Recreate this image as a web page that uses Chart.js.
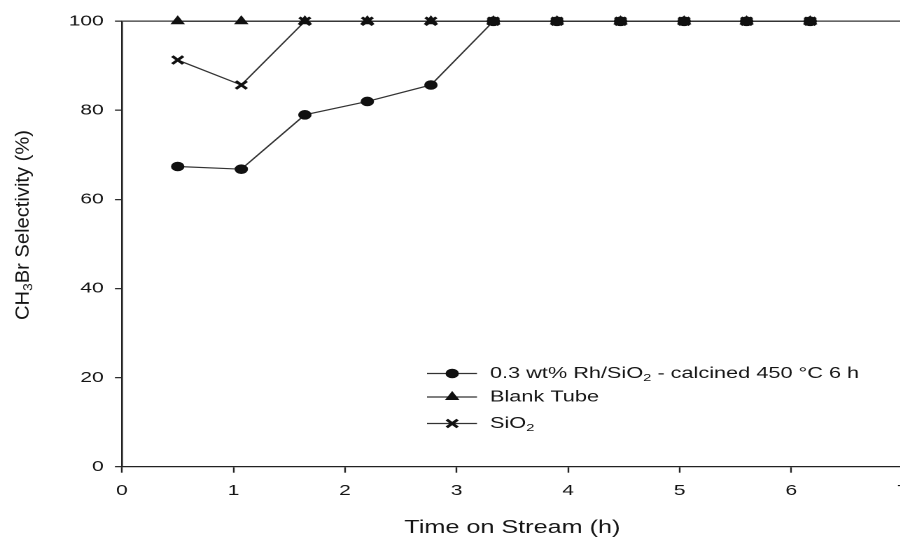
<!DOCTYPE html>
<html>
<head>
<meta charset="utf-8">
<script src="https://cdn.jsdelivr.net/npm/chart.js@4.4.1/dist/chart.umd.min.js"></script>
<style>
    html, body { margin: 0; padding: 0; background: #fff; overflow: hidden; width: 900px; height: 539px; }
    /* the plot is laid out narrow and widened, so the lettering comes out broad */
    #wrap { position: absolute; left: 0; top: 0; width: 658px; height: 539px; transform: scaleX(1.4); transform-origin: 0 0; }
</style>
</head>
<body>
<div id="wrap"><canvas id="myChart" width="658" height="539"></canvas></div>
<script>
const FONT = "'Liberation Sans', Arial, sans-serif"
const INK = '#151515'

// time on stream (h)
const times = [0.5, 1.07, 1.64, 2.2, 2.77, 3.33, 3.9, 4.47, 5.04, 5.6, 6.17]

// CH3Br selectivity (%)
const rhSio2 = [67.4, 66.8, 79.0, 82.0, 85.7, 100, 100, 100, 100, 100, 100]
const blankTube = [100, 100, 100, 100, 100, 100, 100, 100, 100, 100, 100]
const sio2 = [91.3, 85.7, 100, 100, 100, 100, 100, 100, 100, 100, 100]

// "_x" marks a subscript character
const seriesNames = ['0.3 wt% Rh/SiO_2 - calcined 450 °C 6 h', 'Blank Tube', 'SiO_2']
const xTicks = [0, 1, 2, 3, 4, 5, 6, 7]
const yTicks = [0, 20, 40, 60, 80, 100]

const toPoints = (ys) => ys.map((y, i) => ({ x: times[i], y: y }))

// draws text where "_x" becomes a lowered, smaller x; returns width used
function drawRich(ctx, text, x, y, size) {
    const parts = text.split(/_(.)/)
    let cx = x
    parts.forEach((p, i) => {
        const sub = i % 2 === 1
        ctx.font = (sub ? size * 0.68 : size) + 'px ' + FONT
        ctx.fillText(p, cx, sub ? y + size * 0.3 : y)
        cx += ctx.measureText(p).width
    })
    return cx - x
}

function richWidth(ctx, text, size) {
    const parts = text.split(/_(.)/)
    let w = 0
    parts.forEach((p, i) => {
        ctx.font = (i % 2 === 1 ? size * 0.68 : size) + 'px ' + FONT
        w += ctx.measureText(p).width
    })
    return w
}

// rotated y title, stretched along its length
const yTitle = {
    id: 'yTitle',
    afterDraw(chart) {
        const ctx = chart.ctx
        const text = 'CH_3Br Selectivity (%)'
        const size = 13.4
        ctx.save()
        ctx.translate(16.6, 225)
        ctx.rotate(-Math.PI / 2)
        const w = richWidth(ctx, text, size)
        ctx.scale(190 / w, 1)
        ctx.fillStyle = INK
        ctx.textBaseline = 'middle'
        ctx.textAlign = 'left'
        drawRich(ctx, text, -w / 2, 0, size)
        ctx.restore()
    }
}

// legend sitting inside the plot, lower right
const innerLegend = {
    id: 'innerLegend',
    afterDraw(chart) {
        const ctx = chart.ctx
        const rows = [373.5, 397, 423.5]
        ctx.save()
        chart.data.datasets.forEach((ds, i) => {
            const y = rows[i]
            ctx.strokeStyle = ds.borderColor
            ctx.lineWidth = ds.borderWidth
            ctx.beginPath()
            ctx.moveTo(305, y)
            ctx.lineTo(340.7, y)
            ctx.stroke()

            ctx.fillStyle = ds.pointBackgroundColor
            ctx.strokeStyle = ds.pointBorderColor
            ctx.lineWidth = ds.pointBorderWidth
            Chart.helpers.drawPoint(ctx, {
                pointStyle: ds.pointStyle,
                rotation: 0,
                radius: ds.pointRadius,
                borderWidth: ds.pointBorderWidth
            }, 323, y)

            ctx.fillStyle = INK
            ctx.textBaseline = 'middle'
            ctx.textAlign = 'left'
            drawRich(ctx, ds.label, 350, y, 15.5)
        })
        ctx.restore()
    }
}

const ctx = document.getElementById('myChart')

new Chart(ctx, {
    type: 'line',
    data: {
        datasets: [{
            label: seriesNames[0],
            data: toPoints(rhSio2),
            borderColor: '#333',
            borderWidth: 1.2,
            pointStyle: 'circle',
            pointRadius: 4.3,
            pointBorderWidth: 1,
            pointBackgroundColor: '#111',
            pointBorderColor: '#111'
        }, {
            label: seriesNames[1],
            data: toPoints(blankTube),
            borderColor: '#333',
            borderWidth: 1.2,
            pointStyle: 'triangle',
            pointRadius: 5,
            pointBorderWidth: 1,
            pointBackgroundColor: '#111',
            pointBorderColor: '#111'
        }, {
            label: seriesNames[2],
            data: toPoints(sio2),
            borderColor: '#333',
            borderWidth: 1.2,
            pointStyle: 'crossRot',
            pointRadius: 5.5,
            pointBorderWidth: 2.4,
            pointBackgroundColor: '#111',
            pointBorderColor: '#111'
        }]
    },
    options: {
        responsive: false,
        devicePixelRatio: 2,
        animation: false,
        clip: false,
        layout: {
            padding: { top: 21.3, right: 4.5, left: 0, bottom: 0 }
        },
        elements: {
            line: { tension: 0, fill: false }
        },
        plugins: {
            legend: { display: false },
            tooltip: { enabled: false }
        },
        scales: {
            x: {
                type: 'linear',
                min: 0,
                max: 7,
                afterBuildTicks: (scale) => { scale.ticks = xTicks.map(v => ({ value: v })) },
                afterFit: (scale) => { scale.height = 72.3 },
                ticks: {
                    color: INK,
                    padding: 9,
                    font: { family: FONT, size: 15 }
                },
                grid: {
                    drawOnChartArea: false,
                    tickLength: 6,
                    tickColor: '#222',
                    tickWidth: 1.2
                },
                border: { color: '#222', width: 1.3 },
                title: {
                    display: true,
                    text: 'Time on Stream (h)',
                    color: INK,
                    padding: { top: 0, bottom: 0 },
                    font: { family: FONT, size: 18 }
                }
            },
            y: {
                min: 0,
                max: 100,
                afterBuildTicks: (scale) => { scale.ticks = yTicks.map(v => ({ value: v })) },
                afterFit: (scale) => { scale.width = 87.1 },
                ticks: {
                    color: INK,
                    padding: 8,
                    font: { family: FONT, size: 15 }
                },
                grid: {
                    // only the top edge of the frame is drawn across the plot
                    color: (c) => c.tick && c.tick.value === 100 ? '#333' : 'rgba(0,0,0,0)',
                    lineWidth: 1.3,
                    tickLength: 5,
                    tickColor: '#222',
                    tickWidth: 1.2
                },
                border: { color: '#222', width: 1.3 }
            }
        }
    },
    plugins: [yTitle, innerLegend]
});
</script>
</body>
</html>
